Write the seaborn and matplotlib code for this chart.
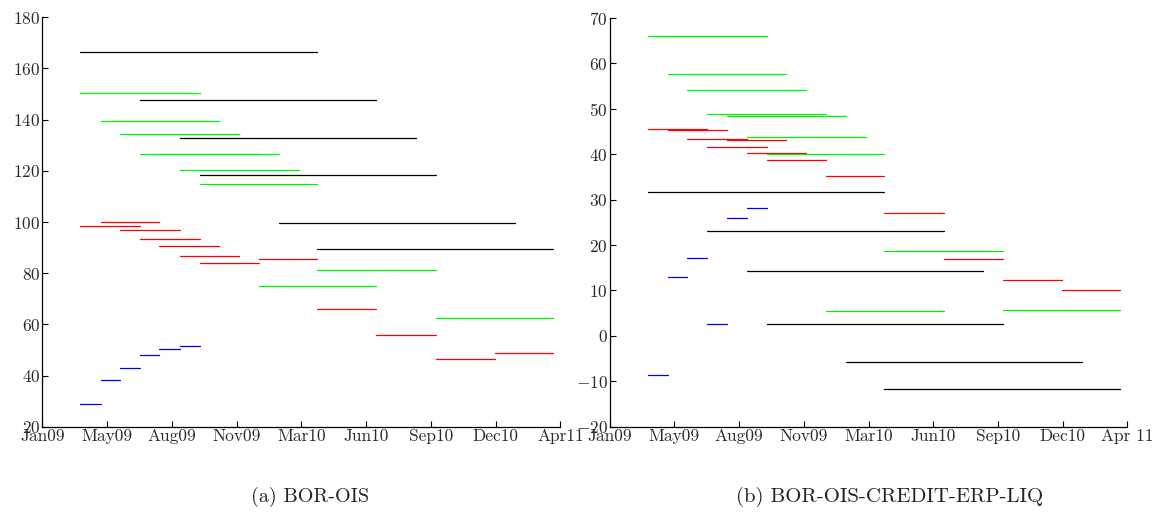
import matplotlib
matplotlib.use("Agg")
import matplotlib.pyplot as plt
import matplotlib.dates as mdates
import pandas as pd
import numpy as np
import seaborn as sns

# forward segments: start month (months after Jan 2009), tenor length in months
tenors = ["1M", "3M", "6M", "12M"]
tenor_months = {"1M": 1, "3M": 3, "6M": 6, "12M": 12}
tenor_colors = {"1M": "#0000ff", "3M": "#ff0000", "6M": "#00f000", "12M": "#000000"}

starts_1m = [2, 3, 4, 5, 6, 7]
starts_3m = [2, 3, 4, 5, 6, 7, 8, 11, 14, 17, 20, 23]
starts_6m = [2, 3, 4, 5, 6, 7, 8, 11, 14, 20]
starts_12m = [2, 5, 7, 8, 12, 14]

# (a) BOR-OIS
a_1m = [28.7, 38.1, 42.9, 47.9, 50.5, 51.6]
a_3m = [98.4, 100.0, 96.7, 93.3, 90.5, 86.6, 83.8, 85.4, 66.1, 55.9, 46.4, 48.7]
a_6m = [150.3, 139.4, 134.3, 126.7, 126.6, 120.3, 114.7, 75.1, 81.1, 62.6]
a_12m = [166.4, 147.6, 133.0, 118.4, 99.7, 89.5]

# (b) BOR-OIS-CREDIT-ERP-LIQ
b_1m = [-8.6, 12.9, 17.2, 2.7, 26.0, 28.1]
b_3m = [45.5, 45.4, 43.4, 41.6, 43.2, 40.2, 38.7, 35.3, 27.0, 17.0, 12.2, 10.1]
b_6m = [66.0, 57.6, 54.2, 48.9, 48.5, 43.7, 40.1, 5.4, 18.7, 5.7]
b_12m = [31.7, 23.0, 14.3, 2.6, -5.8, -11.6]

labels_a = ["Jan09", "May09", "Aug09", "Nov09", "Mar10", "Jun10", "Sep10", "Dec10", "Apr11"]
labels_b = ["Jan09", "May09", "Aug09", "Nov09", "Mar10", "Jun10", "Sep10", "Dec10", "Apr 11"]

x_start = pd.Timestamp("2009-01-01")
x_end = pd.Timestamp("2011-03-12")


def build_frame(vals):
    rows = []
    starts = {"1M": starts_1m, "3M": starts_3m, "6M": starts_6m, "12M": starts_12m}
    seg = 0
    for t in tenors:
        for s, v in zip(starts[t], vals[t]):
            d0 = x_start + pd.DateOffset(months=s)
            d1 = d0 + pd.DateOffset(months=tenor_months[t])
            rows.append({"seg": seg, "tenor": t, "date": d0, "value": v})
            rows.append({"seg": seg, "tenor": t, "date": d1, "value": v})
            seg += 1
    return pd.DataFrame(rows)


df_a = build_frame({"1M": a_1m, "3M": a_3m, "6M": a_6m, "12M": a_12m})
df_b = build_frame({"1M": b_1m, "3M": b_3m, "6M": b_6m, "12M": b_12m})

sns.set_style("white")
plt.rcParams["font.family"] = ["cmr10", "DejaVu Serif"]
plt.rcParams["mathtext.fontset"] = "cm"
plt.rcParams["axes.unicode_minus"] = False
plt.rcParams["axes.formatter.use_mathtext"] = True

fig = plt.figure(figsize=(11.55, 5.12), dpi=100)
ax1 = fig.add_axes([0.0366, 0.1666, 0.4485, 0.7996])
ax2 = fig.add_axes([0.5279, 0.1666, 0.4481, 0.7982])


def draw(ax, df, ylim, yticks, xlabels):
    sns.lineplot(data=df, x="date", y="value", hue="tenor", units="seg",
                 estimator=None, palette=tenor_colors, hue_order=tenors,
                 linewidth=0.9, legend=False, ax=ax)
    lo, hi = mdates.date2num(x_start), mdates.date2num(x_end)
    ax.set_xlim(lo, hi)
    ax.set_xticks(np.linspace(lo, hi, 9))
    ax.set_xticklabels(xlabels)
    ax.set_ylim(*ylim)
    ax.set_yticks(yticks)
    ax.set_xlabel("")
    ax.set_ylabel("")
    for s in ["top", "right"]:
        ax.spines[s].set_visible(False)
    for s in ["left", "bottom"]:
        ax.spines[s].set_color("black")
        ax.spines[s].set_linewidth(0.9)
    ax.tick_params(direction="in", length=4, width=0.8, labelsize=12.5,
                   labelcolor="#2a2a2a", color="black", pad=1.5,
                   left=True, bottom=True)


draw(ax1, df_a, (20, 180), np.arange(20, 181, 20), labels_a)
draw(ax2, df_b, (-20, 70), np.arange(-20, 71, 10), labels_b)

fig.text(0.2684, 0.029, "(a) BOR-OIS", ha="center", va="center", fontsize=14.5, color="#222222")
fig.text(0.7706, 0.029, "(b) BOR-OIS-CREDIT-ERP-LIQ", ha="center", va="center", fontsize=15, color="#222222")

fig.savefig("out.png", dpi=100)
